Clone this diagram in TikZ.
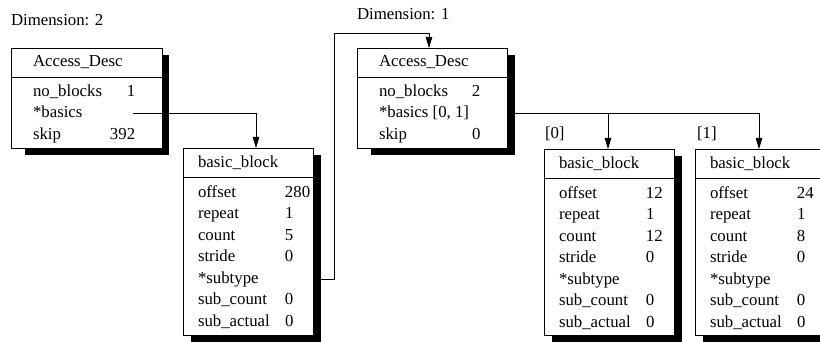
\documentclass[tikz,border=0pt]{standalone}
\usepackage{fontspec}
\setmainfont{Liberation Serif}
\usetikzlibrary{positioning,arrows.meta}

\tikzset{
  frame/.style={draw, fill=white, line width=0.8pt, inner sep=0pt, outer sep=0pt},
  hdr/.style={frame, minimum height=29pt},
  shade/.style={fill=black},
  txt/.style={inner sep=0pt, outer sep=0pt, font=\fontsize{16.8}{21.5}\selectfont},
  ptr/.style={line width=0.8pt, -{Triangle[length=11pt,width=6.5pt]}}
}

\begin{document}
\begin{tikzpicture}[x=1pt, y=-1pt]
\useasboundingbox (0,0) rectangle (820,342);
\clip (0,0) rectangle (820,342);

% shadows go first
\fill[shade] (25,55) rectangle (169,155);
\fill[shade] (371,55) rectangle (515,155);
\fill[shade] (190.5,155) rectangle (320.5,342);
\fill[shade] (551.5,156) rectangle (681.5,342);
\fill[shade] (702.5,156) rectangle (840,342);

% dimension 2
\node[txt, anchor=west] (dim2) at (11,20) {Dimension: 2};
\node[hdr, minimum width=151pt, anchor=north west] (ad1) at (11,48) {};
\node[frame, minimum width=151pt, minimum height=71pt, below=0pt of ad1] (ad1b) {};
\node[txt, right=22pt of ad1.west] (ad1t) {Access\_Desc};
\node[txt, below right=4pt and 22pt of ad1b.north west] (ad1f) {%
  \begin{tabular}{@{}p{77pt}@{}r@{}}
  no\_blocks & 1\\
  \relax*basics & \\
  skip & 392
  \end{tabular}};

\node[hdr, minimum width=130pt, anchor=north west] (bb1) at (183,148) {};
\node[frame, minimum width=130pt, minimum height=158pt, below=0pt of bb1] (bb1b) {};
\node[txt, right=15pt of bb1.west] (bb1t) {basic\_block};
\node[txt, below right=5pt and 15pt of bb1b.north west] (bb1f) {%
  \begin{tabular}{@{}p{87pt}@{}l@{}}
  offset & 280\\
  repeat & 1\\
  count & 5\\
  stride & 0\\
  \relax*subtype & \\
  sub\_count & 0\\
  sub\_actual & 0
  \end{tabular}};

% dimension 1
\node[txt, anchor=west] (dim1) at (357,14) {Dimension: 1};
\node[hdr, minimum width=150pt, anchor=north west] (ad2) at (357,48) {};
\node[frame, minimum width=150pt, minimum height=71pt, below=0pt of ad2] (ad2b) {};
\node[txt, right=22pt of ad2.west] (ad2t) {Access\_Desc};
\node[txt, below right=4pt and 22pt of ad2b.north west] (ad2f) {%
  \begin{tabular}{@{}p{93pt}@{}l@{}}
  no\_blocks & 2\\
  \multicolumn{2}{@{}l@{}}{*basics [0, 1]}\\
  skip & 0
  \end{tabular}};

\node[hdr, minimum width=130pt, anchor=north west] (bb2) at (544,149) {};
\node[frame, minimum width=130pt, minimum height=157pt, below=0pt of bb2] (bb2b) {};
\node[txt, right=15pt of bb2.west] (bb2t) {basic\_block};
\node[txt, below right=5pt and 15pt of bb2b.north west] (bb2f) {%
  \begin{tabular}{@{}p{87pt}@{}l@{}}
  offset & 12\\
  repeat & 1\\
  count & 12\\
  stride & 0\\
  \relax*subtype & \\
  sub\_count & 0\\
  sub\_actual & 0
  \end{tabular}};
\node[txt, above right=8pt and 1pt of bb2.north west] (idx0) {[0]};

\node[hdr, minimum width=130pt, anchor=north west] (bb3) at (695,149) {};
\node[frame, minimum width=130pt, minimum height=157pt, below=0pt of bb3] (bb3b) {};
\node[txt, right=15pt of bb3.west] (bb3t) {basic\_block};
\node[txt, below right=5pt and 15pt of bb3b.north west] (bb3f) {%
  \begin{tabular}{@{}p{87pt}@{}l@{}}
  offset & 24\\
  repeat & 1\\
  count & 8\\
  stride & 0\\
  \relax*subtype & \\
  sub\_count & 0\\
  sub\_actual & 0
  \end{tabular}};
\node[txt, above right=8pt and 2pt of bb3.north west] (idx1) {[1]};

% pointers
\coordinate (ad1p) at (133,113);
\coordinate (bb1in) at (256,148);
\draw[ptr] (ad1p) -| (bb1in);

\coordinate (bb1p) at (313,279);
\coordinate (ad2in) at (429,48);
\draw[ptr] (bb1p) -| (334,33) -| (ad2in);

\coordinate (ad2p) at (507,113);
\coordinate (fork) at (608,113);
\coordinate (bb2in) at (608,149);
\coordinate (bb3in) at (759,149);
\draw[ptr] (ad2p) -| (bb3in);
\draw[ptr] (fork) -- (bb2in);
\end{tikzpicture}
\end{document}
